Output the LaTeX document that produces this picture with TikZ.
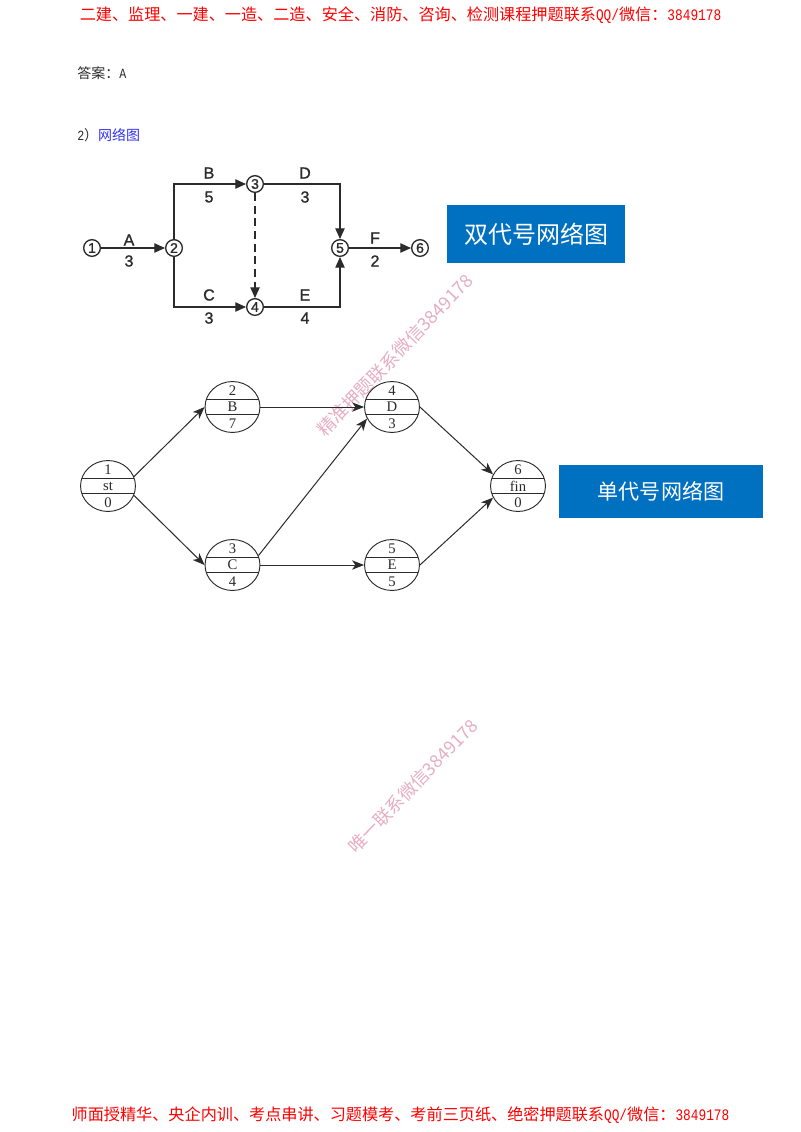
\documentclass[tikz,border=0pt]{standalone}
\usepackage{fontspec}
\setmainfont{Liberation Serif}
\newfontfamily\cjk{Noto Sans CJK SC}
\newfontfamily\lat{Liberation Mono}
\newfontfamily\lab[FakeBold=1.2]{Liberation Sans}
\usetikzlibrary{arrows.meta,shapes.geometric}
\definecolor{boxblue}{HTML}{0070C0}
\definecolor{wm}{HTML}{E6AFC0}
\definecolor{linkblue}{HTML}{3333EE}
\definecolor{ink}{HTML}{2B2B2B}
\tikzset{
  headline/.style={text=red,inner sep=0pt,font=\cjk\fontsize{12.1}{12}\selectfont},
  plain/.style={text=ink,inner sep=0pt,anchor=west,font=\cjk\fontsize{10.5}{12}\selectfont},
  event/.style={circle,draw=ink,line width=1pt,minimum size=12.5pt,inner sep=0pt,font=\lab\fontsize{10.5}{11}\selectfont,text=ink},
  toplabel/.style={inner sep=0pt,text=ink,font=\lab\fontsize{12}{12}\selectfont},
  toparrow/.style={draw=ink,line width=0.9pt,-{Triangle[length=8pt,width=7pt]}},
  activity/.style={ellipse,draw=ink,line width=0.7pt,minimum width=41.2pt,minimum height=38.2pt,inner sep=0pt},
  rowtext/.style={inner sep=0pt,text=ink,font=\fontsize{11}{11}\selectfont},
  botarrow/.style={draw=ink,line width=0.75pt,-{Stealth[length=9pt,width=7pt,inset=2.5pt]}},
  bluebox/.style={fill=boxblue,draw=none,inner sep=0pt,text=white},
  watermark/.style={text=wm,inner sep=0pt,font=\cjk\fontsize{13.6}{14}\selectfont}
}
\newcommand{\nm}[1]{\scalebox{0.8}[1]{\lat\fontsize{12}{12}\selectfont #1}}
\newcommand{\nms}[1]{\scalebox{0.83}[1]{\lat\fontsize{10.5}{12}\selectfont #1}}
\newcommand{\fcolon}{\char"FF1A\relax}
\newcommand{\fparen}{\char"FF09\relax}
\begin{document}
\begin{tikzpicture}[x=0.75pt,y=-0.75pt]
\path[use as bounding box,fill=white] (0,0) rectangle (800,1132);

\node[headline] (head) at (400.5,15) {二建、监理、一建、一造、二造、安全、消防、咨询、检测课程押题联系\nm{QQ/}微信\fcolon\nm{3849178}};
\node[headline] (foot) at (400.5,1115) {师面授精华、央企内训、考点串讲、习题模考、考前三页纸、绝密押题联系\nm{QQ/}微信\fcolon\nm{3849178}};
\node[plain] (answer) at (77,73) {答案\fcolon\nms{A}};
\node[plain] (sec) at (77,135) {\nms{2}\fparen\textcolor{linkblue}{网络图}};

% watermarks
\node[watermark,rotate=46] (wm1) at (395,355) {精准押题联系微信3849178};
\node[watermark,rotate=46,font=\cjk\fontsize{13.4}{14}\selectfont] (wm2) at (413,786) {唯一联系微信3849178};

% double-code network
\node[event] (e1) at (92,248) {1};
\node[event] (e2) at (174,248) {2};
\node[event] (e3) at (255,184) {3};
\node[event] (e4) at (255,307) {4};
\node[event] (e5) at (340,248) {5};
\node[event] (e6) at (420,248) {6};
\draw[toparrow] (e1) -- (e2);
\draw[toparrow] (e2.north) |- (e3.west);
\draw[toparrow] (e2.south) |- (e4.west);
\draw[toparrow] (e3.east) -| (e5.north);
\draw[toparrow] (e4.east) -| (e5.south);
\draw[toparrow] (e5) -- (e6);
\draw[toparrow,line width=0.85pt,dash pattern=on 6pt off 3.5pt] (e3) -- (e4);
\node[toplabel] (tA) at (129,240) {A};
\node[toplabel] (dA) at (129,261) {3};
\node[toplabel] (tB) at (209,173) {B};
\node[toplabel] (dB) at (209,197) {5};
\node[toplabel] (tD) at (305,173) {D};
\node[toplabel] (dD) at (305,197) {3};
\node[toplabel] (tC) at (209,295) {C};
\node[toplabel] (dC) at (209,318) {3};
\node[toplabel] (tE) at (305,295) {E};
\node[toplabel] (dE) at (305,318) {4};
\node[toplabel] (tF) at (375,238) {F};
\node[toplabel] (dF) at (375,261) {2};
\node[bluebox,minimum width=133.5pt,minimum height=43.5pt,font=\cjk\fontsize{18}{18}\selectfont] (box1) at (536,234) {双代号网络图};

% single-code network
\foreach \n/\x/\y/\a/\b/\c in {st/108/486/1/st/0,B/232.5/407/2/B/7,D/392/407/4/D/3,C/232.5/565/3/C/4,E/392/565/5/E/5,fin/518/486/6/fin/0}{
  \node[activity] (\n) at (\x,\y) {};
  \draw[draw=ink,line width=0.7pt] (\n.center) ++(-26.3,-7.5) -- ++(52.6,0);
  \draw[draw=ink,line width=0.7pt] (\n.center) ++(-26.3,7.5) -- ++(52.6,0);
  \node[rowtext] (\n a) at (\x,\y-16) {\a};
  \node[rowtext] (\n b) at (\x,\y) {\b};
  \node[rowtext] (\n c) at (\x,\y+17) {\c};
}
\draw[botarrow] (st.20) -- (B.west);
\draw[botarrow] (st.-20) -- (C.west);
\draw[botarrow] (B.east) -- (D.west);
\draw[botarrow] (C.east) -- (E.west);
\draw[botarrow] (C.20) -- (D.205);
\draw[botarrow] (D.east) -- (fin.155);
\draw[botarrow] (E.east) -- (fin.205);
\node[bluebox,minimum width=153pt,minimum height=39.75pt,font=\cjk\fontsize{15.8}{16}\selectfont] (box2) at (661,491.5) {单代号网络图};
\end{tikzpicture}
\end{document}
